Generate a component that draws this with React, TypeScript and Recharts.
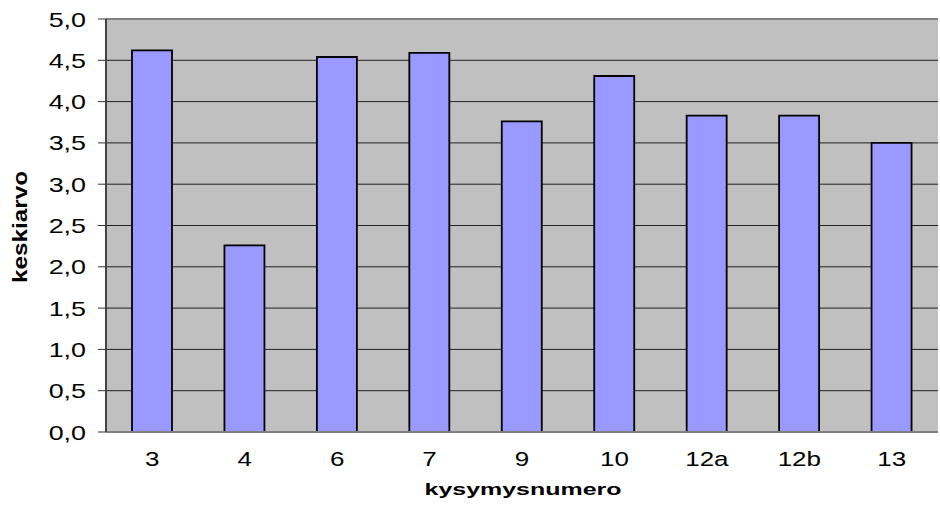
import React from 'react';
import { BarChart, Bar, XAxis, YAxis, CartesianGrid, ReferenceLine } from 'recharts';

const questions = ['3', '4', '6', '7', '9', '10', '12a', '12b', '13'];
const means = [4.62, 2.26, 4.54, 4.59, 3.76, 4.31, 3.83, 3.83, 3.5];
const yTicks = [0, 0.5, 1, 1.5, 2, 2.5, 3, 3.5, 4, 4.5, 5];

const data = questions.map((q, i) => ({ q, mean: means[i] }));

const FONT = '"Liberation Sans", Arial, sans-serif';

const fmt = (v: number) => v.toFixed(1).replace('.', ',');

const YTick = (props: any) => {
  const { x, y, payload } = props;
  return (
    <text
      transform={`translate(${x},${y}) scale(1.28,1)`}
      textAnchor="end"
      dy="0.36em"
      fontSize={21}
      fontFamily={FONT}
      fill="#000"
    >
      {fmt(payload.value)}
    </text>
  );
};

const XTick = (props: any) => {
  const { x, y, payload } = props;
  return (
    <text
      transform={`translate(${x},${y + 34}) scale(1.3,1)`}
      textAnchor="middle"
      fontSize={20}
      fontFamily={FONT}
      fill="#000"
    >
      {payload.value}
    </text>
  );
};

const YTitle = () => (
  <text
    x={27}
    y={227}
    transform="rotate(-90, 27, 227)"
    textAnchor="middle"
    fontSize={21}
    fontWeight="bold"
    fontFamily={FONT}
    textLength={112}
    lengthAdjust="spacingAndGlyphs"
    fill="#000"
  >
    keskiarvo
  </text>
);

const XTitle = () => (
  <text
    x={523}
    y={495}
    textAnchor="middle"
    fontSize={17}
    fontWeight="bold"
    fontFamily={FONT}
    textLength={197}
    lengthAdjust="spacingAndGlyphs"
    fill="#000"
  >
    kysymysnumero
  </text>
);

export default function App() {
  return (
    <div style={{ position: 'absolute', left: 0, top: 0, width: 940, height: 509, background: '#fff' }}>
      <BarChart
        width={940}
        height={509}
        data={data}
        margin={{ top: 19, right: 2, bottom: 0, left: 0 }}
      >
        <CartesianGrid vertical={false} fill="#c0c0c0" stroke="#222" strokeWidth={1} />
        <XAxis
          dataKey="q"
          height={77}
          tick={<XTick />}
          tickLine={false}
          tickSize={0}
          tickMargin={0}
          axisLine={{ stroke: '#808080', strokeWidth: 2 }}
          label={<XTitle />}
        />
        <YAxis
          width={106}
          domain={[0, 5]}
          ticks={yTicks}
          interval={0}
          tick={<YTick />}
          tickSize={8}
          tickMargin={12}
          tickLine={{ stroke: '#333', strokeWidth: 1 }}
          axisLine={{ stroke: '#444', strokeWidth: 2 }}
          label={<YTitle />}
        />
        <ReferenceLine y={5} stroke="#808080" strokeWidth={2} />
        <Bar
          dataKey="mean"
          fill="#9999ff"
          stroke="#000"
          strokeWidth={1.8}
          barSize={40}
          isAnimationActive={false}
        />
      </BarChart>
    </div>
  );
}
